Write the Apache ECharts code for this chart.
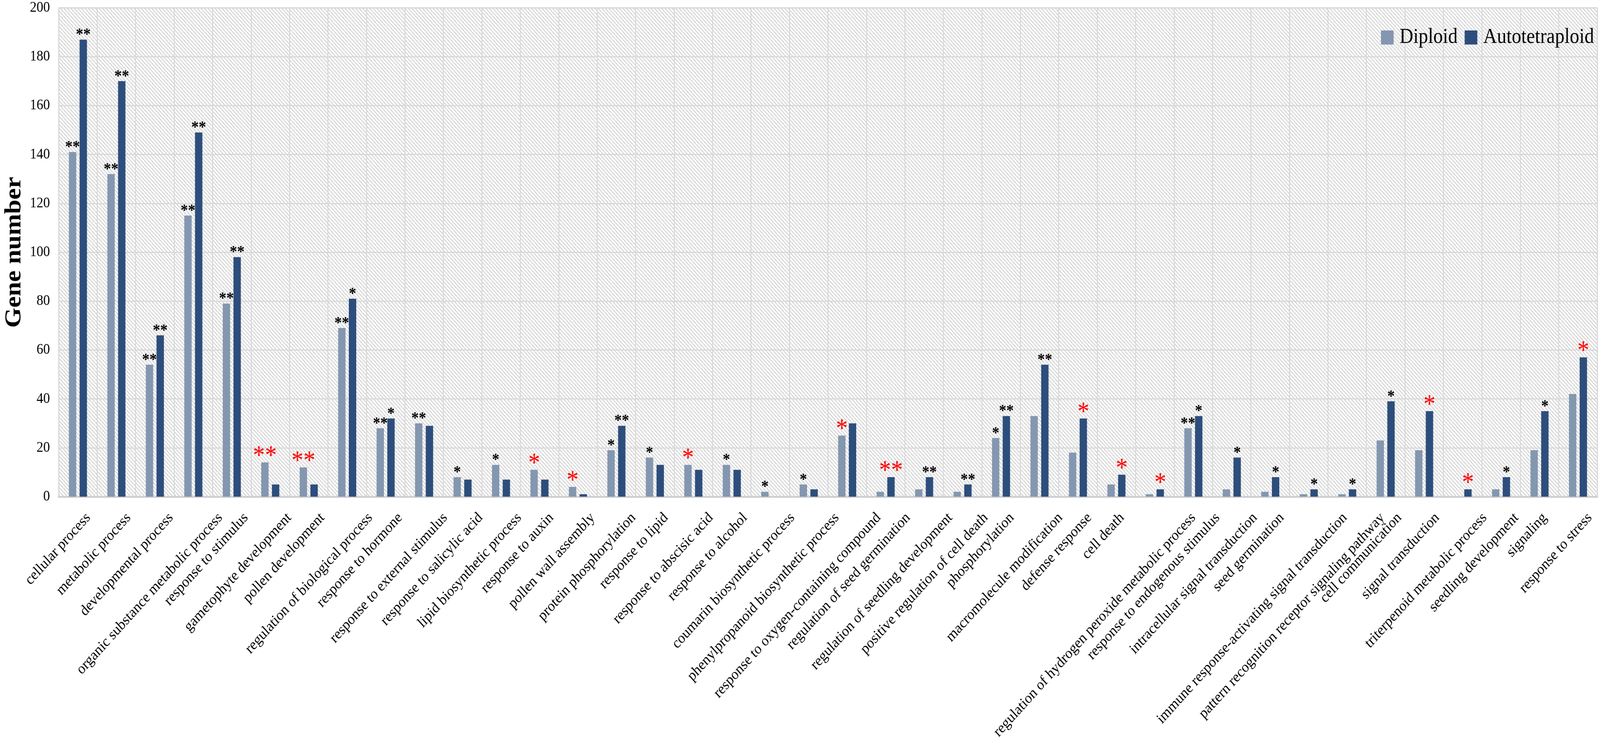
<!DOCTYPE html>
<html lang="en">
  <head>
    <meta charset="UTF-8" />
    <title>Gene number</title>
    <script src="https://cdn.jsdelivr.net/npm/echarts@6/dist/echarts.min.js"></script>
    <style>
      html, body { margin: 0; padding: 0; background: #fff; overflow: hidden; }
      #main { width: 4550px; height: 1908px; transform-origin: 0 0; }
    </style>
  </head>
  <body>
    <div id="main"></div>
    <script type="text/javascript">
      // GO terms on the x axis
      const categories = [
        "cellular process", "metabolic process", "developmental process",
        "organic substance metabolic process", "response to stimulus",
        "gametophyte development", "pollen development",
        "regulation of biological process", "response to hormone",
        "response to external stimulus", "response to salicylic acid",
        "lipid biosynthetic process", "response to auxin", "pollen wall assembly",
        "protein phosphorylation", "response to lipid", "response to abscisic acid",
        "response to alcohol", "coumarin biosynthetic process",
        "phenylpropanoid biosynthetic process",
        "response to oxygen-containing compound", "regulation of seed germination",
        "regulation of seedling development", "positive regulation of cell death",
        "phosphorylation", "macromolecule modification", "defense response",
        "cell death", "regulation of hydrogen peroxide metabolic process",
        "response to endogenous stimulus", "intracellular signal transduction",
        "seed germination", "immune response-activating signal transduction",
        "pattern recognition receptor signaling pathway", "cell communication",
        "signal transduction", "triterpenoid metabolic process",
        "seedling development", "signaling", "response to stress",
      ];

      const diploid = [141, 132, 54, 115, 79, 14, 12, 69, 28, 30, 8, 13, 11, 4, 19, 16, 13, 13, 2, 5,
        25, 2, 3, 2, 24, 33, 18, 5, 1, 28, 3, 2, 1, 1, 23, 19, 0, 3, 19, 42];
      const autotetraploid = [187, 170, 66, 149, 98, 5, 5, 81, 32, 29, 7, 7, 7, 1, 29, 13, 11, 11, 0, 3,
        30, 8, 8, 5, 33, 54, 32, 9, 3, 33, 16, 8, 3, 3, 39, 35, 3, 8, 35, 57];

      // significance marks over each bar: black ones and red ones
      const diploidSig = ["**", "**", "**", "**", "**", "", "", "**", "**", "**", "*", "*", "", "", "*", "*", "", "*", "*", "*",
        "", "", "", "", "*", "", "", "", "", "**", "", "", "", "", "", "", "", "", "", ""];
      const diploidSigRed = ["", "", "", "", "", "**", "**", "", "", "", "", "", "*", "*", "", "", "*", "", "", "",
        "*", "", "", "", "", "", "", "", "", "", "", "", "", "", "", "", "", "", "", ""];
      const autoSig = ["**", "**", "**", "**", "**", "", "", "*", "*", "", "", "", "", "", "**", "", "", "", "", "",
        "", "", "**", "**", "**", "**", "", "", "", "*", "*", "*", "*", "*", "*", "", "", "*", "*", ""];
      const autoSigRed = ["", "", "", "", "", "", "", "", "", "", "", "", "", "", "", "", "", "", "", "",
        "", "**", "", "", "", "", "*", "*", "*", "", "", "", "", "", "", "*", "*", "", "", "*"];

      const serif = "Liberation Serif";
      const labelFont = '39px "Liberation Serif"';

      // the chart is laid out on a 4550x1908 sheet, then fitted to the window
      const dom = document.getElementById("main");
      const sx = (window.innerWidth || 4550) / 4550;
      const sy = (window.innerHeight || 1908) / 1908;
      dom.style.transform = "scale(" + sx + "," + sy + ")";

      // light diagonal hatching for the plot background
      const step = 10;
      const tile = document.createElement("canvas");
      tile.width = step;
      tile.height = step;
      const tctx = tile.getContext("2d");
      tctx.fillStyle = "#ffffff";
      tctx.fillRect(0, 0, step, step);
      tctx.strokeStyle = "#d0d0d0";
      tctx.lineWidth = 2.4;
      [-step, 0, step].forEach((o) => {
        tctx.beginPath();
        tctx.moveTo(o, 0);
        tctx.lineTo(o + step, step);
        tctx.stroke();
      });

      // slanted category labels: longer names sit a bit further right of their tick
      const mctx = document.createElement("canvas").getContext("2d");
      mctx.font = labelFont;
      function renderCategoryLabel(params, api) {
        const i = api.value(0);
        const pt = api.coord([i, 0]);
        const text = categories[i];
        const len = mctx.measureText(text).width;
        return {
          type: "text",
          x: pt[0] + 0.146 * len - 6,
          y: pt[1] + 48,
          rotation: Math.PI / 4,
          silent: true,
          style: { text: text, font: labelFont, fill: "#000", align: "right", verticalAlign: "middle" },
        };
      }

      function sigLabel(black, red) {
        return {
          show: true,
          position: "top",
          distance: 0,
          formatter: (p) => {
            if (red[p.dataIndex]) return "{r|" + red[p.dataIndex] + "}";
            if (black[p.dataIndex]) return "{k|" + black[p.dataIndex] + "}";
            return "";
          },
          rich: {
            k: { fontFamily: serif, fontSize: 42, fontWeight: "bold", color: "#000", lineHeight: 26, padding: [0, 0, -4, 0] },
            r: { fontFamily: serif, fontSize: 68, color: "#ff0000", lineHeight: 40, padding: [0, 0, -10, 0] },
          },
        };
      }

      let myChart = echarts.init(dom, null, { width: 4550, height: 1908 });
      let options = {
        backgroundColor: "#fff",
        animation: false,
        grid: {
          left: 140,
          right: 8,
          top: 20,
          bottom: 636,
          show: true,
          backgroundColor: { image: tile, repeat: "repeat" },
          borderColor: "#d9d9d9",
          borderWidth: 3,
        },
        legend: {
          right: 12,
          top: 64,
          itemWidth: 36,
          itemHeight: 36,
          itemGap: 20,
          icon: "rect",
          textStyle: { fontFamily: serif, fontSize: 54, color: "#000", padding: [0, 0, 0, 12] },
          data: ["Diploid", "Autotetraploid"],
        },
        xAxis: {
          type: "category",
          data: categories,
          axisLine: { lineStyle: { color: "#d0d0d0", width: 5 } },
          axisTick: { show: false },
          splitLine: { show: true, interval: 0, lineStyle: { color: "#d9d9d9", width: 3 } },
          axisLabel: { show: false },
        },
        yAxis: {
          type: "value",
          min: 0,
          max: 200,
          interval: 20,
          name: "Gene number",
          nameLocation: "middle",
          nameGap: 90,
          nameTextStyle: { fontFamily: serif, fontSize: 66, fontWeight: "bold", color: "#000" },
          axisLine: { show: false },
          axisTick: { show: false },
          splitLine: { lineStyle: { color: "#d9d9d9", width: 3 } },
          axisLabel: { fontFamily: serif, fontSize: 38, color: "#000", margin: 25 },
        },
        series: [
          {
            name: "Diploid",
            type: "bar",
            data: diploid,
            barWidth: 21,
            barGap: "45%",
            itemStyle: { color: "#8497b0" },
            label: sigLabel(diploidSig, diploidSigRed),
          },
          {
            name: "Autotetraploid",
            type: "bar",
            data: autotetraploid,
            barWidth: 21,
            itemStyle: { color: "#2d4e7c" },
            label: sigLabel(autoSig, autoSigRed),
          },
          {
            name: "labels",
            type: "custom",
            clip: false,
            silent: true,
            z: 10,
            data: categories.map((c, i) => [i, 0]),
            renderItem: renderCategoryLabel,
          },
        ],
      };
      myChart.setOption(options);
    </script>
  </body>
</html>
